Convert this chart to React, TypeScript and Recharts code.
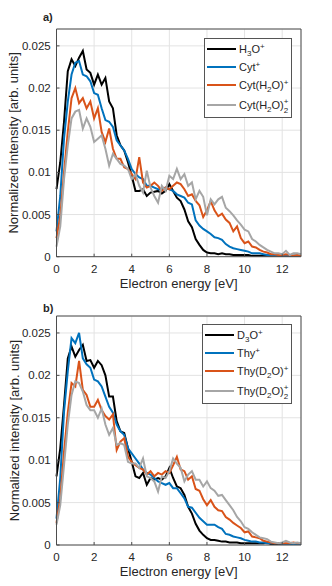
import React from 'react';
import { LineChart, Line, XAxis, YAxis, CartesianGrid, Legend } from 'recharts';

// electron energy grid [eV]
const energy = [
  0, 0.2, 0.4, 0.6, 0.8, 1, 1.2, 1.4, 1.6, 1.8, 2, 2.2, 2.4, 2.6, 2.8, 3, 3.2, 3.4, 3.6, 3.8,
  4, 4.2, 4.4, 4.6, 4.8, 5, 5.2, 5.4, 5.6, 5.8, 6, 6.2, 6.4, 6.6, 6.8, 7, 7.2, 7.4, 7.6, 7.8,
  8, 8.2, 8.4, 8.6, 8.8, 9, 9.2, 9.4, 9.6, 9.8, 10, 10.2, 10.4, 10.6, 10.8, 11, 11.2, 11.4, 11.6, 11.8,
  12, 12.2, 12.4, 12.6, 12.8, 13,
];

// panel a)
const h3o = [
  0.008, 0.0112, 0.016, 0.022, 0.0234, 0.0226, 0.0236, 0.0244, 0.0222, 0.0218, 0.0204, 0.0216, 0.0204, 0.0212, 0.0184, 0.0176, 0.0144, 0.0132, 0.0126, 0.0112,
  0.0096, 0.0078, 0.0078, 0.008, 0.0072, 0.0076, 0.0077, 0.0078, 0.0075, 0.0078, 0.0086, 0.0078, 0.007, 0.0066, 0.0056, 0.0042, 0.0035, 0.0021, 0.0014, 0.0008,
  0.0005, 0.0004, 0.0004, 0.0003, 0.0004, 0.0003, 0.0003, 0.0002, 0.0002, 0.0002, 0.0002, 0.0002, 0.0001, 0.0001, 0.0001, 0.0001, 0.0001, 0.0001, 0.0001, 0.0001,
  0.0001, 0.0001, 0.0001, 0.0001, 0.0001, 0.0001,
];
const cyt = [
  0.003, 0.0072, 0.014, 0.0184, 0.0216, 0.023, 0.0232, 0.0216, 0.0214, 0.0208, 0.0194, 0.0192, 0.0176, 0.0162, 0.016, 0.0154, 0.0138, 0.0132, 0.0126, 0.0116,
  0.0104, 0.0098, 0.0094, 0.0092, 0.0084, 0.0084, 0.0082, 0.008, 0.008, 0.0082, 0.008, 0.0078, 0.0074, 0.0072, 0.007, 0.0064, 0.0062, 0.0043, 0.0037, 0.0033,
  0.003, 0.0027, 0.0023, 0.0022, 0.002, 0.0015, 0.0012, 0.001, 0.0009, 0.0008, 0.0007, 0.0006, 0.0004, 0.0004, 0.0004, 0.0003, 0.0002, 0.0002, 0.0002, 0.0002,
  0.0001, 0.0001, 0.0001, 0.0001, 0.0001, 0.0001,
];
const cytW = [
  0.0022, 0.0048, 0.01, 0.0148, 0.0188, 0.02, 0.0182, 0.0188, 0.0176, 0.0184, 0.0164, 0.0176, 0.0148, 0.0136, 0.0152, 0.0128, 0.0116, 0.0116, 0.0106, 0.0104,
  0.0098, 0.0092, 0.0118, 0.0088, 0.0082, 0.0084, 0.0088, 0.0084, 0.0078, 0.0082, 0.008, 0.0084, 0.0088, 0.0086, 0.008, 0.0072, 0.0074, 0.0066, 0.0061, 0.0047,
  0.0055, 0.0066, 0.0055, 0.0048, 0.0051, 0.0044, 0.004, 0.003, 0.0036, 0.0022, 0.0016, 0.0018, 0.0012, 0.0011, 0.0008, 0.0006, 0.0005, 0.0003, 0.0003, 0.0002,
  0.0002, 0.0003, 0.0002, 0.0001, 0.0002, 0.0001,
];
const cytW2 = [
  0.0012, 0.0036, 0.0092, 0.0132, 0.0164, 0.0172, 0.0174, 0.0152, 0.0164, 0.0154, 0.0136, 0.014, 0.0144, 0.0128, 0.0108, 0.0122, 0.0116, 0.011, 0.0108, 0.0104,
  0.0092, 0.0098, 0.0084, 0.0076, 0.0102, 0.0082, 0.0072, 0.0064, 0.0084, 0.0078, 0.0096, 0.0092, 0.0104, 0.0092, 0.0098, 0.0084, 0.0088, 0.0068, 0.0078, 0.0071,
  0.0049, 0.0068, 0.0062, 0.0068, 0.0071, 0.0058, 0.0054, 0.0049, 0.0043, 0.0038, 0.0032, 0.003, 0.0021, 0.0018, 0.0014, 0.0011, 0.0008, 0.0006, 0.0004, 0.0004,
  0.0003, 0.0007, 0.0002, 0.0004, 0.0004, 0.0003,
];

// panel b)
const d3o = [
  0.0081, 0.0114, 0.0165, 0.022, 0.0234, 0.0222, 0.023, 0.0236, 0.0217, 0.0218, 0.0209, 0.0217, 0.0212, 0.02, 0.0175, 0.0175, 0.0146, 0.0134, 0.0132, 0.0114,
  0.0098, 0.0081, 0.0079, 0.0085, 0.0071, 0.0079, 0.0077, 0.0079, 0.0077, 0.0081, 0.0091, 0.0079, 0.0069, 0.0067, 0.0059, 0.0045, 0.0037, 0.0025, 0.0017, 0.0012,
  0.0008, 0.0006, 0.0006, 0.0005, 0.0004, 0.0004, 0.0003, 0.0003, 0.0003, 0.0002, 0.0002, 0.0002, 0.0002, 0.0002, 0.0002, 0.0002, 0.0003, 0.0001, 0.0001, 0.0001,
  0.0001, 0.0001, 0.0001, 0.0001, 0.0001, 0.0001,
];
const thy = [
  0.0031, 0.0079, 0.0157, 0.0205, 0.0244, 0.0238, 0.025, 0.022, 0.0213, 0.0209, 0.0195, 0.0193, 0.0187, 0.0175, 0.0163, 0.0156, 0.0142, 0.0134, 0.013, 0.0114,
  0.0108, 0.0102, 0.0096, 0.0089, 0.0085, 0.0083, 0.0079, 0.0075, 0.0073, 0.0071, 0.0073, 0.0067, 0.0067, 0.0061, 0.0055, 0.0045, 0.0044, 0.0038, 0.0032, 0.0028,
  0.0024, 0.0024, 0.0024, 0.0021, 0.0019, 0.0013, 0.0012, 0.001, 0.0009, 0.0008, 0.0006, 0.0005, 0.0004, 0.0004, 0.0003, 0.0003, 0.0002, 0.0002, 0.0002, 0.0002,
  0.0001, 0.0001, 0.0001, 0.0001, 0.0001, 0.0001,
];
const thyD = [
  0.0026, 0.0055, 0.011, 0.0156, 0.0191, 0.0187, 0.0217, 0.0183, 0.0177, 0.0163, 0.0163, 0.0171, 0.0159, 0.0152, 0.0148, 0.0154, 0.0112, 0.0122, 0.0126, 0.0104,
  0.0098, 0.0094, 0.0091, 0.0089, 0.0083, 0.0087, 0.0081, 0.0085, 0.0083, 0.0087, 0.0085, 0.0094, 0.0104, 0.0089, 0.0087, 0.0077, 0.0081, 0.0066, 0.0064, 0.0054,
  0.0047, 0.0053, 0.0045, 0.0041, 0.004, 0.0033, 0.003, 0.0026, 0.0023, 0.002, 0.0015, 0.0016, 0.001, 0.0009, 0.0008, 0.0005, 0.0004, 0.0003, 0.0002, 0.0002,
  0.0002, 0.0002, 0.0002, 0.0003, 0.0002, 0.0002,
];
const thyD2 = [
  0.0024, 0.0047, 0.0094, 0.0142, 0.0177, 0.0193, 0.0191, 0.0181, 0.0165, 0.0159, 0.0159, 0.015, 0.0161, 0.0142, 0.013, 0.0138, 0.0118, 0.012, 0.0118, 0.0098,
  0.0096, 0.0096, 0.0091, 0.0102, 0.0081, 0.0079, 0.0075, 0.0063, 0.0081, 0.0079, 0.0087, 0.0102, 0.0096, 0.0091, 0.0075, 0.0083, 0.0087, 0.0077, 0.0077, 0.0069,
  0.0075, 0.0067, 0.0064, 0.0058, 0.0059, 0.0053, 0.0047, 0.0041, 0.0033, 0.0028, 0.0021, 0.0019, 0.0015, 0.0012, 0.0009, 0.0008, 0.0007, 0.0004, 0.0003, 0.0002,
  0.0003, 0.0005, 0.0003, 0.0002, 0.0003, 0.0002,
];

const xTicks = [0, 2, 4, 6, 8, 10, 12];
const yTicks = [0, 0.005, 0.01, 0.015, 0.02, 0.025];

const COLORS = ['#000000', '#0072BD', '#D95319', '#A6A6A6'];
const FONT = '"Liberation Sans", Arial, Helvetica, sans-serif';
const AXIS = '#4d4d4d';
const TXT = '#262626';

const Sub = ({ c }: { c: string }) => (
  <span style={{ fontSize: 8, position: 'relative', top: 3 }}>{c}</span>
);
const Sup = ({ c }: { c: string }) => (
  <span style={{ fontSize: 8, position: 'relative', top: -4 }}>{c}</span>
);
// "+" above, "2" below, at the same x (like MATLAB's _2^+)
const SubSup = ({ sub, sup }: { sub: string; sup: string }) => (
  <span>
    <span style={{ fontSize: 8, lineHeight: '8px', position: 'relative', top: -5 }}>{sup}</span>
    <span style={{ fontSize: 8, lineHeight: '8px', position: 'relative', top: 4, marginLeft: -4.7 }}>{sub}</span>
  </span>
);

const labelsA = [
  <span>H<Sub c="3" />O<Sup c="+" /></span>,
  <span>Cyt<Sup c="+" /></span>,
  <span>Cyt(H<Sub c="2" />O)<Sup c="+" /></span>,
  <span>Cyt(H<Sub c="2" />O)<SubSup sub="2" sup="+" /></span>,
];
const labelsB = [
  <span>D<Sub c="3" />O<Sup c="+" /></span>,
  <span>Thy<Sup c="+" /></span>,
  <span>Thy(D<Sub c="2" />O)<Sup c="+" /></span>,
  <span>Thy(D<Sub c="2" />O)<SubSup sub="2" sup="+" /></span>,
];

const LegendBox = ({ labels, width }: { labels: React.ReactNode[]; width: number }) => (
  <div
    style={{
      width,
      boxSizing: 'border-box',
      background: '#fff',
      border: '1px solid #555',
      padding: '1px 2px 1px 2px',
      fontFamily: FONT,
      fontSize: 11,
      color: TXT,
    }}
  >
    {labels.map((lab, i) => (
      <div key={i} style={{ display: 'flex', alignItems: 'center', height: i === 3 ? 22 : 18, whiteSpace: 'nowrap' }}>
        <span style={{ width: 29, height: 2, background: COLORS[i], marginRight: 3, flex: 'none' }} />
        {lab}
      </div>
    ))}
  </div>
);

const YTitle = (props: any) => {
  const vb = props.viewBox || {};
  const cy = (vb.y ?? 29) + (vb.height ?? 228) / 2;
  return (
    <text
      x={14}
      y={cy}
      transform={`rotate(-90, 14, ${cy})`}
      textAnchor="middle"
      dominantBaseline="central"
      fontSize={13}
      fontFamily={FONT}
      fill={TXT}
    >
      Normalized intensity [arb. units]
    </text>
  );
};

interface PanelProps {
  tag: string;
  top: number;
  marginTop: number;
  xAxisHeight: number;
  xLabelOffset: number;
  series: number[][];
  labels: React.ReactNode[];
  legendLeft: number;
  legendTop: number;
  legendWidth: number;
  tagTop: number;
}

const Panel = (p: PanelProps) => {
  const rows = energy.map((e, i) => {
    const r: Record<string, number> = { e };
    p.series.forEach((s, k) => {
      r['s' + k] = s[i];
    });
    return r;
  });
  const tickStyle = { fontSize: 11.5, fill: TXT, fontFamily: FONT };
  return (
    <div style={{ position: 'absolute', left: 0, top: p.top, width: 332, height: 293 }}>
      <div style={{ position: 'absolute', left: 43, top: p.tagTop, fontWeight: 'bold', fontSize: 11, fontFamily: FONT, color: TXT, zIndex: 2 }}>
        {p.tag}
      </div>
      <LineChart width={332} height={293} data={rows} margin={{ top: p.marginTop - 1, right: 30, bottom: 0, left: 0 }}>
        <CartesianGrid stroke="#e3e3e3" strokeWidth={1} />
        <XAxis
          dataKey="e"
          type="number"
          domain={[0, 13]}
          ticks={xTicks}
          height={p.xAxisHeight}
          tickSize={-3}
          tickMargin={11}
          tick={tickStyle}
          axisLine={{ stroke: AXIS }}
          tickLine={{ stroke: AXIS }}
          label={{ value: 'Electron energy [eV]', position: 'insideBottom', offset: p.xLabelOffset, fontSize: 13, fill: TXT, fontFamily: FONT }}
        />
        <XAxis
          xAxisId="top"
          orientation="top"
          dataKey="e"
          type="number"
          domain={[0, 13]}
          ticks={xTicks}
          height={1}
          tickSize={-3}
          tick={false}
          axisLine={{ stroke: AXIS }}
          tickLine={{ stroke: AXIS }}
        />
        <YAxis
          type="number"
          domain={[0, 0.027]}
          ticks={yTicks}
          width={56.5}
          tickSize={-3}
          tickMargin={8.8}
          tick={tickStyle}
          axisLine={{ stroke: AXIS }}
          tickLine={{ stroke: AXIS }}
          label={{ content: YTitle }}
          allowDataOverflow
        />
        <YAxis
          yAxisId="right"
          orientation="right"
          type="number"
          domain={[0, 0.027]}
          ticks={yTicks}
          width={1}
          tickSize={-3}
          tick={false}
          axisLine={{ stroke: AXIS }}
          tickLine={{ stroke: AXIS }}
        />
        {p.series.map((_, k) => (
          <Line
            key={k}
            dataKey={'s' + k}
            type="linear"
            stroke={COLORS[k]}
            strokeWidth={2}
            dot={false}
            isAnimationActive={false}
          />
        ))}
        <Legend
          layout="vertical"
          verticalAlign="middle"
          align="center"
          wrapperStyle={{ left: p.legendLeft, top: p.legendTop, width: p.legendWidth, height: 'auto' }}
          content={() => <LegendBox labels={p.labels} width={p.legendWidth} />}
        />
      </LineChart>
    </div>
  );
};

export default function App() {
  return (
    <div style={{ position: 'absolute', left: 0, top: 0, width: 332, height: 586, background: '#fff' }}>
      <Panel
        tag="a)"
        top={0}
        marginTop={29}
        xAxisHeight={36.3}
        xLabelOffset={5.5}
        series={[h3o, cyt, cytW, cytW2]}
        labels={labelsA}
        legendLeft={204}
        legendTop={38}
        legendWidth={88}
        tagTop={11}
      />
      <Panel
        tag="b)"
        top={293}
        marginTop={23}
        xAxisHeight={41}
        xLabelOffset={10.5}
        series={[d3o, thy, thyD, thyD2]}
        labels={labelsB}
        legendLeft={202}
        legendTop={31}
        legendWidth={90}
        tagTop={9}
      />
    </div>
  );
}
